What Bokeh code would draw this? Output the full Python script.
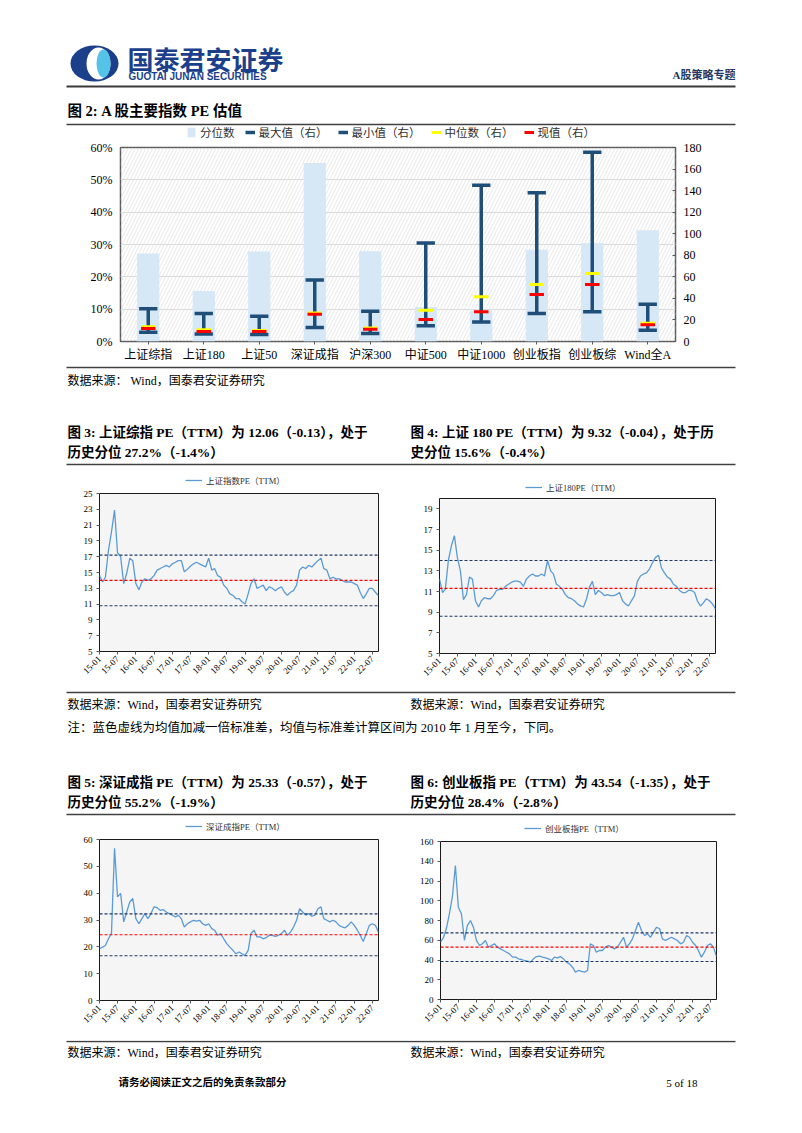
import pandas as pd
from math import pi
from bokeh.plotting import figure
from bokeh.models import (Range1d, FactorRange, LinearAxis, FixedTicker, NumeralTickFormatter,
                          Legend, LegendItem, BoxAnnotation, Span, ColumnDataSource,
                          DatetimeTickFormatter)
from bokeh.transform import dodge
from bokeh.layouts import column, row
from bokeh.embed import file_html
from bokeh.resources import INLINE
from bokeh.core.properties import value

SERIF = "'Liberation Serif', 'Noto Sans CJK SC'"
SANS_CJK = "'Noto Sans CJK SC'"

# ---------------- data: figure 2 ----------------
categories = ["上证综指", "上证180", "上证50", "深证成指", "沪深300",
              "中证500", "中证1000", "创业板指", "创业板综", "Wind全A"]
percentile = [0.272, 0.156, 0.278, 0.552, 0.279, 0.107, 0.095, 0.284, 0.305, 0.344]
pe_max = [30.5, 26.0, 23.5, 57.0, 28.0, 91.5, 145.0, 138.0, 175.5, 34.5]
pe_min = [8.5, 7.0, 6.5, 13.0, 7.5, 14.5, 18.0, 26.0, 27.5, 10.5]
pe_median = [13.6, 11.0, 10.2, 26.5, 12.5, 29.0, 41.5, 53.0, 63.0, 17.0]
pe_current = [12.06, 9.32, 9.2, 25.33, 11.3, 20.5, 27.5, 43.54, 53.0, 15.5]
legend_labels = ["分位数", "最大值（右）", "最小值（右）", "中位数（右）", "现值（右）"]
pct_ticks = [0, 0.1, 0.2, 0.3, 0.4, 0.5, 0.6]
pe_ticks = [0, 20, 40, 60, 80, 100, 120, 140, 160, 180]

# ---------------- data: figures 3-6 (monthly, 2015-01 .. 2022-09) ----------------
months = pd.date_range("2015-01-01", "2022-09-01", freq="MS")
tick_labels = ["15-01", "15-07", "16-01", "16-07", "17-01", "17-07", "18-01", "18-07",
               "19-01", "19-07", "20-01", "20-07", "21-01", "21-07", "22-01", "22-07"]

sse_pe = [14.6, 13.8, 14.4, 17.8, 20.1, 22.9, 17.5, 17.0, 13.6, 14.9, 16.8, 16.5,
          13.6, 12.8, 13.8, 14.2, 14.0, 14.2, 14.6, 15.3, 15.5, 15.7, 15.9, 15.7,
          16.1, 16.3, 16.5, 16.5, 15.1, 15.4, 15.8, 16.1, 16.3, 16.1, 15.9, 15.7,
          16.8, 15.3, 15.5, 14.6, 14.4, 13.4, 13.0, 12.3, 12.1, 11.7, 11.7, 11.3,
          11.0, 12.3, 13.6, 14.2, 13.0, 13.2, 13.4, 12.7, 13.2, 13.0, 12.7, 13.0,
          13.2, 12.5, 12.1, 12.5, 12.7, 13.4, 15.3, 15.7, 15.5, 15.9, 15.7, 16.1,
          16.5, 16.8, 15.5, 15.3, 14.2, 14.4, 14.2, 14.2, 14.0, 13.8, 13.8, 13.8,
          13.6, 13.4, 12.5, 11.7, 12.3, 13.0, 13.0, 12.5, 12.06]
sh180_pe = [12.2, 10.9, 11.2, 14.0, 15.4, 16.4, 14.3, 13.0, 10.2, 10.7, 12.4, 12.2,
            10.1, 9.5, 10.1, 10.4, 10.3, 10.3, 10.6, 11.1, 11.2, 11.2, 11.5, 11.7,
            11.9, 12.0, 12.0, 11.9, 11.5, 12.2, 12.5, 12.7, 12.5, 12.5, 12.7, 12.5,
            14.0, 13.0, 12.7, 11.7, 11.5, 11.2, 10.7, 10.4, 10.3, 10.1, 9.8, 9.6,
            9.5, 10.3, 11.4, 12.0, 10.7, 11.1, 10.9, 10.6, 10.7, 10.6, 10.6, 10.7,
            10.9, 10.1, 9.8, 9.6, 10.1, 10.6, 12.0, 12.5, 12.7, 12.8, 13.2, 13.8,
            14.3, 14.5, 13.3, 12.8, 12.4, 12.2, 11.7, 11.5, 11.1, 10.9, 10.9, 11.1,
            11.1, 10.9, 10.1, 9.6, 9.9, 10.3, 10.1, 9.8, 9.32]
szse_pe = [19.3, 19.9, 20.5, 23.0, 25.0, 56.7, 38.6, 39.9, 29.3, 33.0, 36.7, 38.0,
           30.5, 28.6, 30.5, 32.4, 30.5, 32.4, 34.9, 34.6, 33.6, 33.9, 33.0, 32.4,
           31.8, 31.1, 31.8, 30.5, 27.4, 28.6, 29.3, 29.9, 29.6, 29.9, 28.6, 28.0,
           28.6, 26.8, 26.2, 24.3, 24.9, 23.0, 21.2, 19.9, 18.7, 17.4, 18.1, 17.4,
           16.8, 18.7, 24.9, 26.2, 23.7, 23.7, 23.0, 23.4, 24.3, 24.3, 23.9, 24.3,
           24.9, 26.2, 24.3, 25.5, 27.4, 29.9, 34.2, 33.0, 31.8, 32.4, 31.4, 31.8,
           34.2, 34.9, 30.5, 29.9, 29.3, 29.9, 29.3, 28.0, 27.4, 27.1, 28.0, 29.3,
           28.0, 26.2, 24.3, 22.0, 24.9, 28.0, 28.6, 28.0, 25.33]
gem_pe = [58.0, 63.0, 71.6, 86.8, 103.6, 135.7, 93.5, 86.8, 60.0, 75.0, 80.0, 73.2,
          59.7, 54.7, 56.4, 59.7, 53.0, 54.7, 56.4, 53.0, 51.3, 49.6, 47.9, 46.2,
          42.9, 42.9, 41.2, 40.5, 39.5, 38.8, 37.8, 41.2, 43.5, 43.9, 42.9, 42.2,
          41.2, 39.5, 42.9, 42.2, 43.5, 41.2, 37.8, 36.1, 32.7, 27.7, 29.4, 28.4,
          27.7, 29.4, 56.4, 54.7, 47.9, 49.6, 49.6, 53.0, 54.7, 53.0, 51.3, 53.0,
          58.0, 63.0, 53.0, 56.4, 61.4, 69.9, 78.3, 69.9, 64.8, 66.5, 63.0, 68.2,
          73.2, 71.6, 61.4, 59.7, 61.4, 63.0, 61.4, 59.7, 56.4, 58.0, 64.8, 63.0,
          58.0, 54.7, 49.6, 42.9, 47.9, 54.7, 56.4, 53.0, 43.54]

# mean and one standard deviation since 2010
sse_mean, sse_std = 14.0, 3.2
sh180_mean, sh180_std = 11.3, 2.7
szse_mean, szse_std = 24.5, 7.8
gem_mean, gem_std = 53.0, 14.5

NAVY = "#1f4e79"
LINE_BLUE = "#5b9bd5"
PAGE_W = 802
HALF_W = 401
TITLE_SIZE = "13.5px"


def ms(t):
    return t.value // 10**6


def blank(y0, y1, width=PAGE_W, x0=0):
    p = figure(width=width, height=y1 - y0, x_range=Range1d(x0, x0 + width),
               y_range=Range1d(y1, y0), x_axis_location=None, y_axis_location=None,
               toolbar_location=None, output_backend="svg", min_border=0)
    p.xgrid.visible = False
    p.ygrid.visible = False
    p.outline_line_color = None
    return p


def put(p, x, y, s, size="12px", bold=False, color="#000000", align="left", font=SERIF):
    p.text(x=[x], y=[y], text=[s], text_font=value(font), text_font_size=size,
           text_font_style="bold" if bold else "normal", text_color=color,
           text_align=align, text_baseline="middle")


def hline(p, y, x0=66, x1=735, width=1.5, color="#404040"):
    p.segment(x0=[x0], y0=[y], x1=[x1], y1=[y], line_color=color, line_width=width)


def style_axis(ax, size, tick_in=0, tick_out=3, standoff=4):
    ax.major_label_text_font = SERIF
    ax.major_label_text_font_size = size
    ax.major_label_text_color = "#000000"
    ax.axis_line_color = None
    ax.major_tick_in = tick_in
    ax.major_tick_out = tick_out
    ax.minor_tick_line_color = None
    ax.major_tick_line_color = "#595959"
    ax.major_label_standoff = standoff


def add_legend(p, fig_y1, items, left_x, center_y, font_size, glyph_w, half_h, spacing=10):
    # location = legend's bottom-left corner, in pixels from the figure's bottom-left corner
    vy = max(0, fig_y1 - (center_y + half_h))
    p.add_layout(Legend(items=items, location=(left_x, vy), orientation="horizontal",
                        border_line_color=None, background_fill_alpha=0, label_text_font=SERIF,
                        label_text_font_size=font_size, label_text_color="#303030",
                        glyph_width=glyph_w, glyph_height=12, label_height=12,
                        label_standoff=4, spacing=spacing, padding=0, margin=0))


# legend keys: off-screen proxies styled exactly like the chart's marks
def key_segment(p, color, lw):
    return p.segment(x0=[-120], y0=[-60], x1=[-100], y1=[-60], line_color=color, line_width=lw)


# ---------------- band A: header (page y 0..140) ----------------
pa = blank(0, 140)
pa.ellipse(x=[94], y=[63], width=[48], height=[36], fill_color="#1c3f8c", line_color=None)
pa.ellipse(x=[98], y=[63], width=[24], height=[32], fill_color="white", line_color=None)
pa.ellipse(x=[103], y=[63], width=[14], height=[28], fill_color="#55c2e8", line_color=None)
put(pa, 127, 58, "国泰君安证券", size="26px", bold=True, color="#1c3f8c", font=SANS_CJK)
put(pa, 128, 76, "GUOTAI JUNAN SECURITIES", size="10px", bold=True, color="#1c3f8c",
    font="'Liberation Sans'")
put(pa, 735, 74, "A股策略专题", size="11px", bold=True, color="#1f3864", align="right")
hline(pa, 86, width=2, color="#3a3a3a")
put(pa, 67, 110, "图 2:  A 股主要指数 PE 估值", size="14.5px", bold=True)
hline(pa, 124)
k_bar = pa.vbar(x=[-100], top=[-100], bottom=[-120], width=10, fill_color="#d6e7f6", line_color=None)
k_max = key_segment(pa, NAVY, 3.5)
k_min = key_segment(pa, NAVY, 3.5)
k_med = key_segment(pa, "#ffff00", 3)
k_cur = key_segment(pa, "#ff0000", 3)
add_legend(pa, 140, [LegendItem(label=lab, renderers=[r]) for lab, r in
                     zip(legend_labels, [k_bar, k_max, k_min, k_med, k_cur])],
           186, 133, "11.5px", 10, 7, spacing=10)

# ---------------- band B: figure 2 (page y 140..364) ----------------
src = ColumnDataSource(dict(cat=categories, pct=percentile, mx=pe_max, mn=pe_min,
                            md=pe_median, cur=pe_current))
p1 = figure(width=PAGE_W, height=224, x_range=FactorRange(*categories), y_range=Range1d(0, 0.6),
            toolbar_location=None, output_backend="svg",
            min_border_left=120, min_border_right=127, min_border_top=7, min_border_bottom=23)
p1.extra_y_ranges = {"pe": Range1d(0, 180)}
p1.add_layout(BoxAnnotation(fill_alpha=0, line_color=None, hatch_pattern="/",
                            hatch_color="#e2e2e2", hatch_weight=0.8, hatch_scale=7,
                            level="underlay"))
p1.vbar(x="cat", top="pct", width=0.4, source=src, fill_color="#d6e7f6", line_color=None)
p1.segment(x0="cat", x1="cat", y0="mn", y1="mx", y_range_name="pe", source=src,
           line_color=NAVY, line_width=3.5)
for col, half, color, lw in (("mx", 0.165, NAVY, 3.5), ("mn", 0.165, NAVY, 3.5),
                             ("md", 0.13, "#ffff00", 3), ("cur", 0.13, "#ff0000", 3)):
    p1.segment(x0=dodge("cat", -half, range=p1.x_range), x1=dodge("cat", half, range=p1.x_range),
               y0=col, y1=col, y_range_name="pe", source=src, line_color=color, line_width=lw)

p1.yaxis.ticker = FixedTicker(ticks=pct_ticks)
p1.yaxis.formatter = NumeralTickFormatter(format="0%")
style_axis(p1.yaxis[0], "12px", tick_out=0, standoff=8)
ax_r = LinearAxis(y_range_name="pe", ticker=FixedTicker(ticks=pe_ticks))
style_axis(ax_r, "12px", tick_in=3, tick_out=0, standoff=8)
p1.add_layout(ax_r, "right")
style_axis(p1.xaxis[0], "12px", tick_out=3, standoff=3)
p1.xgrid.visible = False
p1.ygrid.ticker = FixedTicker(ticks=pct_ticks)
p1.ygrid.grid_line_color = "#d9d9d9"
p1.outline_line_color = "#595959"
p1.outline_line_width = 1.5

# ---------------- band C (page y 364..470) ----------------
pc = blank(364, 470)
hline(pc, 367)
put(pc, 67, 380, "数据来源：  Wind，国泰君安证券研究", size="12px")
put(pc, 67, 432, "图 3:  上证综指 PE（TTM）为  12.06（-0.13），处于", size=TITLE_SIZE, bold=True)
put(pc, 67, 452, "历史分位 27.2%（-1.4%）", size=TITLE_SIZE, bold=True)
put(pc, 410, 432, "图 4:  上证 180 PE（TTM）为 9.32（-0.04），处于历", size=TITLE_SIZE, bold=True)
put(pc, 410, 452, "史分位 15.6%（-0.4%）", size=TITLE_SIZE, bold=True)
hline(pc, 464)


# ---------------- line charts ----------------
def pe_chart(vals, yr, yticks, mean, std, height, borders):
    bl, br, bt, bb = borders
    p = figure(width=HALF_W, height=height, x_axis_type="datetime",
               x_range=Range1d(ms(months[0]), ms(months[len(vals) - 1])), y_range=Range1d(*yr),
               toolbar_location=None, output_backend="svg", min_border_left=bl,
               min_border_right=br, min_border_top=bt, min_border_bottom=bb)
    p.background_fill_color = "#f5f5f5"
    p.grid.visible = False
    p.outline_line_color = "#1a1a1a"
    p.outline_line_width = 1
    for loc, col in ((mean + std, "#1f3864"), (mean, "#ff0000"), (mean - std, "#1f3864")):
        p.add_layout(Span(location=loc, dimension="width", line_color=col,
                          line_dash="3 2", line_width=1.1))
    p.line(x=months[:len(vals)], y=vals, line_color=LINE_BLUE, line_width=1.3)
    p.yaxis.ticker = FixedTicker(ticks=yticks)
    style_axis(p.yaxis[0], "9px", tick_out=3, standoff=4)
    p.xaxis.ticker = FixedTicker(ticks=[ms(months[months.strftime("%y-%m").get_loc(t)])
                                        for t in tick_labels])
    p.xaxis.formatter = DatetimeTickFormatter(days="%y-%m", months="%y-%m", years="%y-%m")
    style_axis(p.xaxis[0], "9px", tick_out=3, standoff=3)
    p.xaxis.major_label_orientation = pi / 4
    return p


def legend_strip(x0, y0, y1, label, left_x, center_y):
    p = blank(y0, y1, width=HALF_W, x0=x0)
    key = key_segment(p, LINE_BLUE, 1.3)
    add_legend(p, y1, [LegendItem(label=label, renderers=[key])], left_x - x0, center_y,
               "8.5px", 17, 6)
    return p


l3 = legend_strip(0, 470, 487, "上证指数PE（TTM）", 185, 480)
p3 = pe_chart(sse_pe, (5, 25), list(range(5, 26, 2)), sse_mean, sse_std, 203, (99, 23, 6, 39))
l4 = legend_strip(HALF_W, 470, 494, "上证180PE（TTM）", 525, 487)
p4 = pe_chart(sh180_pe, (5, 20), list(range(5, 20, 2)), sh180_mean, sh180_std, 196, (38, 87, 4, 37))

# ---------------- band E (page y 690..818) ----------------
pe_ = blank(690, 818)
hline(pe_, 692)
put(pe_, 67, 704, "数据来源：Wind，国泰君安证券研究", size="12px")
put(pe_, 410, 704, "数据来源：Wind，国泰君安证券研究", size="12px")
put(pe_, 67, 727, "注：蓝色虚线为均值加减一倍标准差，均值与标准差计算区间为 2010 年 1 月至今，下同。",
    size="12.5px")
put(pe_, 67, 782, "图 5:  深证成指 PE（TTM）为 25.33（-0.57），处于", size=TITLE_SIZE, bold=True)
put(pe_, 67, 802, "历史分位 55.2%（-1.9%）", size=TITLE_SIZE, bold=True)
put(pe_, 410, 782, "图 6:  创业板指 PE（TTM）为 43.54（-1.35），处于", size=TITLE_SIZE, bold=True)
put(pe_, 410, 802, "历史分位 28.4%（-2.8%）", size=TITLE_SIZE, bold=True)
hline(pe_, 814)

l5 = legend_strip(0, 818, 833, "深证成指PE（TTM）", 185, 826)
p5 = pe_chart(szse_pe, (0, 60), list(range(0, 61, 10)), szse_mean, szse_std, 207, (99, 23, 6, 40))
l6 = legend_strip(HALF_W, 818, 835, "创业板指PE（TTM）", 524, 828)
p6 = pe_chart(gem_pe, (0, 160), list(range(0, 161, 20)), gem_mean, gem_std, 205, (39, 86, 6, 41))

# ---------------- band G: footer (page y 1040..1130) ----------------
pg = blank(1040, 1130)
hline(pg, 1041)
put(pg, 67, 1052, "数据来源：Wind，国泰君安证券研究", size="12px")
put(pg, 410, 1052, "数据来源：Wind，国泰君安证券研究", size="12px")
put(pg, 118, 1082, "请务必阅读正文之后的免责条款部分", size="10.5px", bold=True)
put(pg, 697, 1082, "5 of 18", size="11px", align="right")

layout = column(row(pa), row(p1), row(pc),
                row(column(row(l3), row(p3)), column(row(l4), row(p4))),
                row(pe_),
                row(column(row(l5), row(p5)), column(row(l6), row(p6))),
                row(pg), spacing=0)
open("out.html", "w").write(file_html(layout, INLINE))
